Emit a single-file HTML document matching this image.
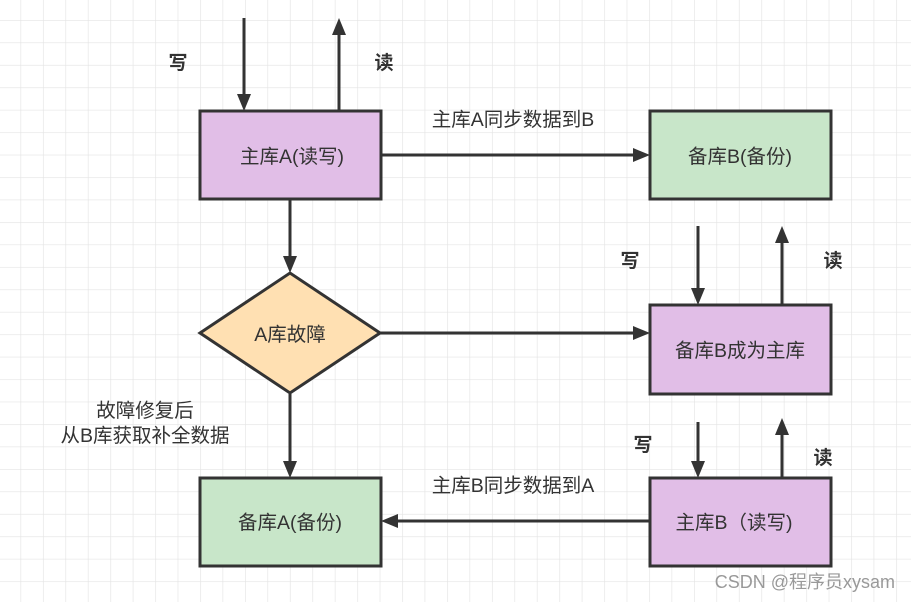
<!DOCTYPE html>
<html><head><meta charset="utf-8"><style>
html,body{margin:0;padding:0;background:#fff}
svg{display:block}
text{font-family:"Liberation Sans","Noto Sans CJK SC",sans-serif;fill:#333}
</style></head><body>
<svg width="911" height="602" viewBox="0 0 911 602" xmlns="http://www.w3.org/2000/svg">
<defs>
<pattern id="g" x="20.5" y="20" width="22.45" height="22.45" patternUnits="userSpaceOnUse">
<path d="M0 0H22.45M0 0V22.45" stroke="#e4e4e4" stroke-width="1.3" fill="none"/>
</pattern>
</defs>
<rect width="911" height="602" fill="url(#g)"/>
<g stroke="#333" stroke-width="3" fill="none">
<line x1="244" y1="18" x2="244" y2="98"/>
<line x1="339" y1="111" x2="339" y2="32"/>
<line x1="381" y1="155" x2="636" y2="155"/>
<line x1="290" y1="199" x2="290" y2="260"/>
<line x1="380" y1="333" x2="636" y2="333"/>
<line x1="290" y1="394" x2="290" y2="465"/>
<line x1="698" y1="226" x2="698" y2="292"/>
<line x1="782" y1="305" x2="782" y2="240"/>
<line x1="698" y1="422" x2="698" y2="465"/>
<line x1="782" y1="478" x2="782" y2="432"/>
<line x1="650" y1="521" x2="395" y2="521"/>
</g>
<g fill="#333">
<polygon points="237,94 251,94 244,111"/>
<polygon points="332,35 346,35 339,18"/>
<polygon points="633,148 633,162 650,155"/>
<polygon points="283,256 297,256 290,273"/>
<polygon points="633,326 633,340 650,333"/>
<polygon points="283,461 297,461 290,478"/>
<polygon points="691,288 705,288 698,305"/>
<polygon points="775,243 789,243 782,226"/>
<polygon points="691,461 705,461 698,478"/>
<polygon points="775,435 789,435 782,418"/>
<polygon points="398,514 398,528 381,521"/>
</g>
<g stroke="#333" stroke-width="3">
<rect x="200" y="111" width="181" height="88" fill="#e1bee7"/>
<rect x="650" y="111" width="181" height="88" fill="#c8e6c9"/>
<polygon points="200,333 290,273 380,333 290,393" fill="#ffe0b2"/>
<rect x="650" y="305" width="181" height="89" fill="#e1bee7"/>
<rect x="200" y="478" width="181" height="88" fill="#c8e6c9"/>
<rect x="650" y="478" width="181" height="88" fill="#e1bee7"/>
</g>
<g font-size="19.5" text-anchor="middle">
<text x="292" y="163">主库A(读写)</text>
<text x="740" y="163">备库B(备份)</text>
<text x="290" y="341">A库故障</text>
<text x="740" y="357">备库B成为主库</text>
<text x="290" y="529">备库A(备份)</text>
<text x="734" y="529">主库B（读写)</text>
<text x="513" y="126">主库A同步数据到B</text>
<text x="513" y="492">主库B同步数据到A</text>
<text x="145" y="417">故障修复后</text>
<text x="145" y="442">从B库获取补全数据</text>
</g>
<g font-size="19" font-weight="bold" text-anchor="middle">
<text x="178" y="69">写</text>
<text x="384" y="69">读</text>
<text x="630" y="267">写</text>
<text x="833" y="267">读</text>
<text x="643" y="451">写</text>
<text x="823" y="464">读</text>
</g>
<text x="895" y="588" font-size="18" text-anchor="end" style="fill:#999">CSDN @程序员xysam</text>
</svg>
</body></html>
